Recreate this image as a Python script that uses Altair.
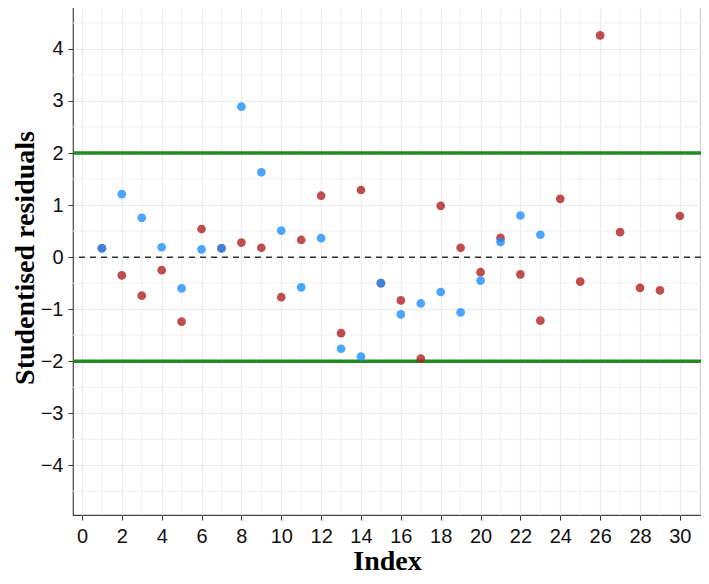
import altair as alt
import pandas as pd

# ---- data ----
index_red = list(range(1, 31))
resid_red = [0.17, -0.35, -0.74, -0.25, -1.24, 0.54, 0.17, 0.28, 0.18, -0.77,
             0.33, 1.18, -1.46, 1.29, -0.50, -0.83, -1.95, 0.985, 0.18, -0.29,
             0.37, -0.33, -1.22, 1.12, -0.47, 4.26, 0.48, -0.59, -0.64, 0.79]

index_blue = list(range(1, 24))
resid_blue = [0.17, 1.21, 0.755, 0.19, -0.60, 0.15, 0.17, 2.89, 1.63, 0.51,
              -0.58, 0.365, -1.76, -1.91, -0.50, -1.10, -0.89, -0.67, -1.06, -0.45,
              0.29, 0.80, 0.43]

series_names = ["Series A", "Series B"]
series_colors = ["#b22222", "#1e90ff"]

x_ticks = list(range(0, 31, 2))
x_minor = list(range(1, 32, 2))
y_ticks = [-4, -3, -2, -1, 0, 1, 2, 3, 4]
y_minor = [-4.5, -3.5, -2.5, -1.5, -0.5, 0.5, 1.5, 2.5, 3.5, 4.5]
limits = [-2, 2]
zero_line = [0]

x_domain = [-0.45, 31.06]
y_domain = [-4.954, 4.94]

pts = pd.concat([
    pd.DataFrame({"Index": index_red, "resid": resid_red, "series": series_names[0]}),
    pd.DataFrame({"Index": index_blue, "resid": resid_blue, "series": series_names[1]}),
], ignore_index=True)

xs = alt.Scale(domain=x_domain, nice=False, zero=False)
ys = alt.Scale(domain=y_domain, nice=False, zero=False)

grid_col = "#ebebeb"

vminor = alt.Chart(pd.DataFrame({"x": x_minor})).mark_rule(
    color="#f1f1f1", strokeWidth=1
).encode(x=alt.X("x:Q", scale=xs))

hminor = alt.Chart(pd.DataFrame({"y": y_minor})).mark_rule(
    color="#f1f1f1", strokeWidth=1
).encode(y=alt.Y("y:Q", scale=ys))

zero = alt.Chart(pd.DataFrame({"y": zero_line})).mark_rule(
    color="#333333", strokeWidth=1.5, strokeDash=[6, 5]
).encode(y=alt.Y("y:Q", scale=ys))

green = alt.Chart(pd.DataFrame({"y": limits})).mark_rule(
    color="#228b22", strokeWidth=3.5
).encode(y=alt.Y("y:Q", scale=ys))

points = alt.Chart(pts).mark_circle(size=76, opacity=0.8).encode(
    x=alt.X("Index:Q", scale=xs,
            axis=alt.Axis(values=x_ticks, title="Index", grid=True,
                          labelPadding=6, titlePadding=1)),
    y=alt.Y("resid:Q", scale=ys,
            axis=alt.Axis(values=y_ticks, title="Studentised residuals", grid=True,
                          labelPadding=5, titlePadding=1,
                          labelExpr="replace(datum.label, '-', '\u2212')")),
    color=alt.Color("series:N", scale=alt.Scale(domain=series_names, range=series_colors),
                    legend=None),
)

chart = alt.layer(vminor, hminor, zero, green, points).properties(
    width=628, height=515,
    autosize=alt.AutoSizeParams(type="none"),
    padding={"left": 65, "top": -8, "right": 0, "bottom": 61},
).configure_view(
    stroke="#444444", strokeWidth=1.2
).configure_axis(
    domain=False,
    gridColor=grid_col, gridWidth=1.2,
    tickColor="#333333", tickSize=5, tickWidth=1,
    labelFont="Liberation Sans", labelFontSize=20, labelColor="#111111",
    titleFont="Liberation Serif", titleFontSize=28, titleFontWeight="bold",
    titleColor="#000000",
)

chart.save("out.html", embed_options={"renderer": "svg", "actions": False})
